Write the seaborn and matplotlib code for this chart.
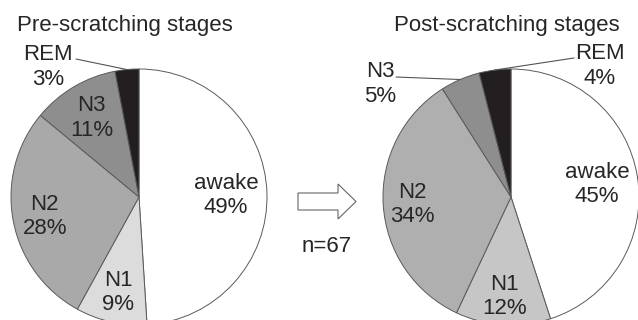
import matplotlib
matplotlib.use("Agg")
import matplotlib.pyplot as plt
from matplotlib.patches import FancyArrow
import numpy as np
import seaborn as sns

sns.set_theme(style="white")
plt.rcParams['font.family'] = ['Liberation Sans', 'DejaVu Sans']

stages = ['awake', 'N1', 'N2', 'N3', 'REM']
pre_values = [49, 9, 28, 11, 3]
post_values = [45, 12, 34, 5, 4]
pre_colors = ['#ffffff', '#dcdcdc', '#a9a9a9', '#8e8e8e', '#231f20']
post_colors = ['#ffffff', '#c6c6c6', '#afafaf', '#8e8e8e', '#231f20']
n_text = 'n=67'

fig = plt.figure(figsize=(6.38, 3.2), dpi=100)
ax = fig.add_axes([0, 0, 1, 1])

R = 128
FS = 16
TXT = '#262626'


def draw_pie(cx, cy, values, colors, inside, outside):
    # y axis is inverted, so counterclock=True looks clockwise on screen
    wedges, _ = ax.pie(values, colors=colors, startangle=-90, counterclock=True,
                       center=(cx, cy), radius=R, frame=True,
                       wedgeprops=dict(edgecolor='#5a5a5a', linewidth=0.7))
    for w, stage, val in zip(wedges, stages, values):
        mid = np.deg2rad((w.theta1 + w.theta2) / 2)
        txt = f"{stage}\n{val}%"
        if stage in inside:
            d = inside[stage] * R
            ax.text(cx + d * np.cos(mid), cy + d * np.sin(mid) + 1.5, txt,
                    ha='center', va='center', fontsize=FS, linespacing=1.2,
                    color=TXT)
        else:
            (tx, ty), (lx, ly) = outside[stage]
            ax.text(tx, ty, txt, ha='center', va='center', fontsize=FS,
                    linespacing=1.2, color=TXT)
            ex, ey = cx + R * np.cos(mid), cy + R * np.sin(mid)
            ax.plot([lx, ex], [ly, ey], color='#555555', lw=0.8)


draw_pie(139, 197, pre_values, pre_colors,
         {'awake': 0.68, 'N1': 0.75, 'N2': 0.75, 'N3': 0.73},
         {'REM': ((48, 67), (76, 59))})
draw_pie(511, 197, post_values, post_colors,
         {'awake': 0.68, 'N1': 0.77, 'N2': 0.77},
         {'N3': ((380, 84), (396, 77)), 'REM': ((600, 66), (574, 58))})

ax.set_xlim(0, 638)
ax.set_ylim(320, 0)
ax.set_aspect('equal')
ax.axis('off')

ax.text(125, 25, 'Pre-scratching stages', ha='center', va='center', fontsize=FS, color=TXT)
ax.text(507, 25, 'Post-scratching stages', ha='center', va='center', fontsize=FS, color=TXT)

arrow = FancyArrow(298, 201.5, 58, 0, width=17, head_width=35, head_length=18,
                   length_includes_head=True, facecolor='white', edgecolor='#666666', lw=0.8)
ax.add_patch(arrow)
ax.text(327, 247, n_text, ha='center', va='center', fontsize=FS, color=TXT)

fig.savefig('out.png', dpi=100)
